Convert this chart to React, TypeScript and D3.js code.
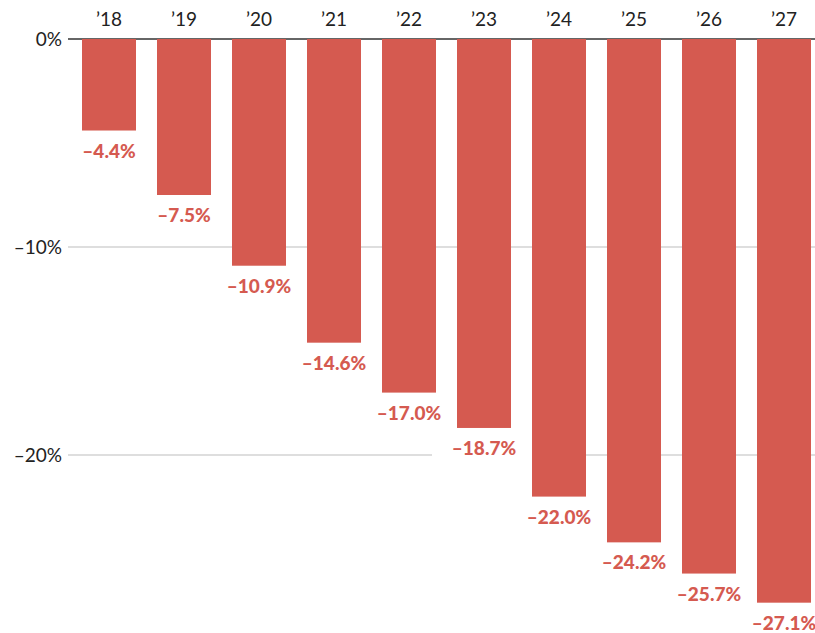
import React from 'react';
import * as d3 from 'd3';

const years = ['\u201918', '\u201919', '\u201920', '\u201921', '\u201922', '\u201923', '\u201924', '\u201925', '\u201926', '\u201927'];
const values = [-4.4, -7.5, -10.9, -14.6, -17.0, -18.7, -22.0, -24.2, -25.7, -27.1];
const ticks = [0, -10, -20];

const W = 815;
const H = 633;
const RED = '#d55a50';
const FONT = 'Lato, "Open Sans", sans-serif';

const fmt = (v: number) => `\u2013${Math.abs(v).toFixed(1)}%`;
const fmtTick = (v: number) => (v === 0 ? '0%' : `\u2013${Math.abs(v)}%`);

const App: React.FC = () => {
  const x = d3.scaleBand<string>()
    .domain(years)
    .range([71.5, 821.5])
    .paddingInner(0.28)
    .paddingOuter(0.14);

  const y = d3.scaleLinear().domain([0, -20]).range([39, 455]);

  return (
    <svg width={W} height={H} style={{ position: 'absolute', left: 0, top: 0, fontFamily: FONT }}>
      {/* gridlines */}
      {ticks.map(t => (
        <g key={t}>
          <line x1={68} x2={W} y1={y(t)} y2={y(t)}
            stroke={t === 0 ? '#333' : '#bdbdbd'} strokeWidth={t === 0 ? 1.5 : 1.2} />
          <text x={62} y={y(t)} dy="0.35em" textAnchor="end" fontSize={19} fill="#222">
            {fmtTick(t)}
          </text>
        </g>
      ))}

      {/* white backing behind value labels (hides gridlines) */}
      {values.map((v, i) => {
        const cx = x(years[i])! + x.bandwidth() / 2;
        return <rect key={'b' + i} x={cx - 52} y={y(v) + 9} width={104} height={26} fill="#fff" />;
      })}

      {/* year labels */}
      {years.map(yr => (
        <text key={yr} x={x(yr)! + x.bandwidth() / 2} y={26} textAnchor="middle" fontSize={19} fill="#222">
          {yr}
        </text>
      ))}

      {/* bars */}
      {values.map((v, i) => (
        <rect key={years[i]} x={x(years[i])} y={y(0)} width={x.bandwidth()} height={y(v) - y(0)}
          fill={RED} />
      ))}

      {/* value labels */}
      {values.map((v, i) => {
        const cx = x(years[i])! + x.bandwidth() / 2;
        return (
          <text key={'l' + i} x={cx} y={y(v) + 27} textAnchor="middle" fontSize={19} fontWeight={900} fill={RED}>
            {fmt(v)}
          </text>
        );
      })}
    </svg>
  );
};

export default App;
